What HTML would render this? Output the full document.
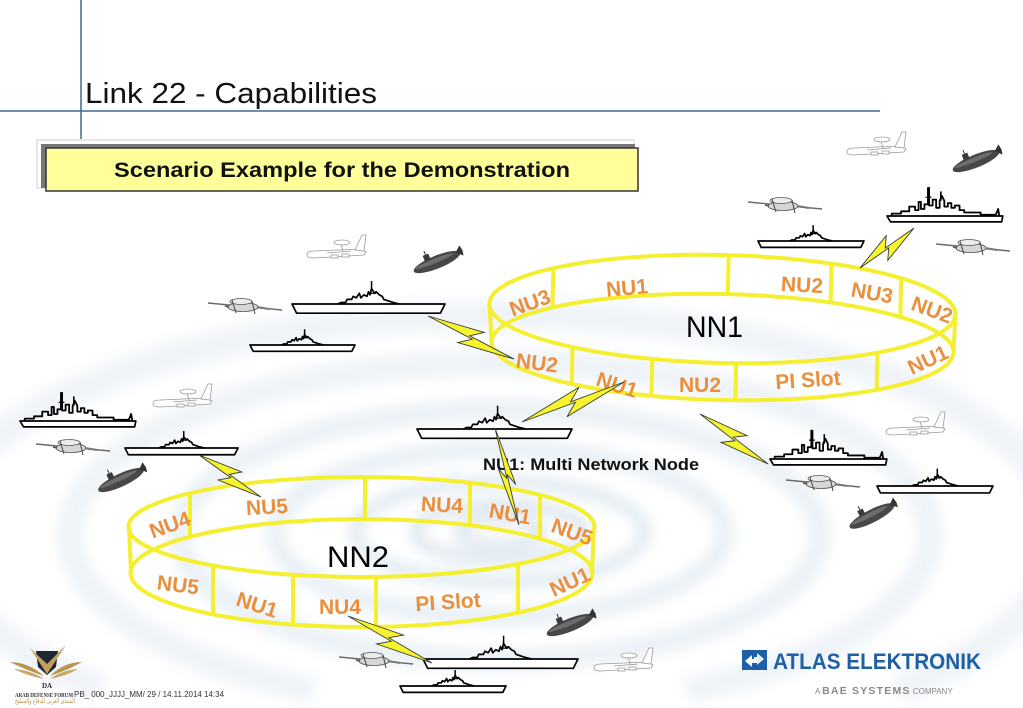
<!DOCTYPE html>
<html><head><meta charset="utf-8">
<style>html,body{margin:0;padding:0;background:#fff;overflow:hidden;width:1023px;height:708px}svg{display:block}</style>
</head><body>
<svg xmlns="http://www.w3.org/2000/svg" xmlns:xlink="http://www.w3.org/1999/xlink" width="1023" height="708" viewBox="0 0 1023 708">
<defs>
 <filter id="bl" x="-20%" y="-20%" width="140%" height="140%"><feGaussianBlur stdDeviation="7"/></filter>
 <polygon id="bolt" points="0,0 60,-11 48,-1 100,0 40,11 52,1" fill="#f6f42c" stroke="#3a3a3a" stroke-width="0.9" vector-effect="non-scaling-stroke" stroke-linejoin="miter"/>
 <g id="carrier" stroke="#000" stroke-linejoin="round">
  <polygon points="0,0 100,0 97,6 3,6" fill="#fff" stroke-width="1.7" vector-effect="non-scaling-stroke"/>
  <polyline points="30,0 32,-1 35,-1 36,-3 39,-3 40,-5 42,-4 44,-7 45,-4 47,-6 49,-5 50,-8 51,-6 52,-10 54,-7 55,-8 57,-6 59,-5 60,-3 63,-2 66,-1 70,0" fill="none" stroke-width="1.7" vector-effect="non-scaling-stroke"/>
  <line x1="52" y1="-10" x2="52" y2="-15" stroke-width="1.5" vector-effect="non-scaling-stroke"/>
  <line x1="50" y1="-7" x2="55" y2="-7" stroke-width="1.2" vector-effect="non-scaling-stroke"/>
 </g>
 <g id="destroyer" stroke="#000" stroke-linejoin="round">
  <polygon points="0,0 99,0 98,5 3,5" fill="#fff" stroke-width="1.7" vector-effect="non-scaling-stroke"/>
  <polyline points="4,0 4,-2 12,-2 12,-4 19,-4 19,-8 24,-8 24,-5 27,-5 27,-12 29,-12 29,-6 32,-6 32,-10 35,-10 35,-24 36,-24 36,-9 39,-9 39,-14 42,-14 42,-7 45,-7 45,-13 47,-17 49,-13 49,-8 52,-8 52,-11 55,-11 55,-7 58,-7 58,-9 62,-9 62,-5 66,-5 66,-3 80,-3 80,-1 93,-1 95,-6 96,0" fill="none" stroke-width="1.8" vector-effect="non-scaling-stroke"/>
  <line x1="46" y1="-13" x2="46" y2="-21" stroke-width="1.6" vector-effect="non-scaling-stroke"/>
  <line x1="33" y1="-16" x2="38" y2="-16" stroke-width="1.2" vector-effect="non-scaling-stroke"/>
 </g>
 <g id="sub">
  <ellipse cx="0" cy="0" rx="25" ry="6.5" fill="#474747"/>
  <ellipse cx="-2" cy="-1.8" rx="20" ry="2.3" fill="#7a7a7a" opacity=".75"/>
  <rect x="-11" y="-11" width="6" height="6" fill="#3a3a3a"/>
  <line x1="-8" y1="-11" x2="-8" y2="-15" stroke="#333" stroke-width="1"/>
  <path d="M21,-2 L27,-7 L28,-1 L27,4 Z" fill="#333"/>
 </g>
 <g id="hawk">
  <line x1="-37" y1="-3" x2="37" y2="4" stroke="#6a6a6a" stroke-width="1.4"/>
  <ellipse cx="-2" cy="1" rx="15" ry="4.5" fill="#d6d6d6" stroke="#555" stroke-width="0.8"/>
  <ellipse cx="-4" cy="-4.5" rx="11" ry="3" fill="#ececec" stroke="#555" stroke-width="0.8"/>
  <line x1="-13" y1="-6" x2="-9" y2="7" stroke="#444" stroke-width="1"/>
  <line x1="7" y1="-5" x2="10" y2="8" stroke="#444" stroke-width="1"/>
  <line x1="12" y1="1" x2="24" y2="3" stroke="#777" stroke-width="2"/>
  <line x1="-20" y1="0" x2="-16" y2="1" stroke="#555" stroke-width="1.5"/>
 </g>
 <g id="awacs" fill="#fff" stroke="#9a9a9a" stroke-width="0.8">
  <path d="M-30,5 Q-30,1 -23,1 L24,-1 L29,2 L27,5 L-23,8 Q-30,8 -30,5Z"/>
  <path d="M18,0 L25,-15 L29,-15 L27,1Z"/>
  <line x1="4" y1="-6" x2="6" y2="1"/>
  <ellipse cx="5" cy="-7.5" rx="8" ry="2.5"/>
  <rect x="-6" y="5" width="7" height="3"/>
  <rect x="5" y="4" width="7" height="3"/>
  <line x1="-10" y1="3" x2="14" y2="1"/>
 </g>
</defs>

<!-- background ripples -->
<g fill="none" filter="url(#bl)">
 <path d="M102.6,690 A560 220 0 1 1 897.4,690" stroke="#dfeaf2" stroke-width="30" opacity=".5"/>
 <path d="M313.5,690 A430 172 0 1 1 686.5,690" stroke="#dbe7f0" stroke-width="26" opacity=".5"/>
 <ellipse cx="500" cy="535" rx="320" ry="125" stroke="#d6e4ee" stroke-width="22" opacity=".5"/>
 <ellipse cx="500" cy="533" rx="225" ry="84" stroke="#d0e0eb" stroke-width="18" opacity=".5"/>
 <ellipse cx="500" cy="532" rx="145" ry="50" stroke="#c4d8e6" stroke-width="13" opacity=".55"/>
 <ellipse cx="500" cy="532" rx="85" ry="27" stroke="#b0cadc" stroke-width="8" opacity=".65"/>
 <ellipse cx="500" cy="532" rx="42" ry="13" stroke="#97b5cc" stroke-width="5" opacity=".7"/>
</g>

<!-- header lines -->
<line x1="81" y1="0" x2="81" y2="139" stroke="#3d6891" stroke-width="1.5"/>
<line x1="0" y1="111" x2="880" y2="111" stroke="#3d6891" stroke-width="1.5"/>
<text x="85" y="103" font-family="Liberation Sans, Arial, sans-serif" font-size="29" fill="#111" textLength="292" lengthAdjust="spacingAndGlyphs">Link 22 - Capabilities</text>

<!-- title box -->
<rect x="37" y="140" width="597" height="48" fill="none" stroke="#cfcfcf" stroke-width="1"/>
<rect x="41" y="144" width="594" height="44" fill="#777"/>
<rect x="46" y="148" width="592" height="43" fill="#ffff99" stroke="#333" stroke-width="1.5"/>
<text x="114" y="177" font-family="Liberation Sans, Arial, sans-serif" font-size="21" font-weight="bold" fill="#111" textLength="456" lengthAdjust="spacingAndGlyphs">Scenario Example for the Demonstration</text>

<!-- NN1 ring -->
<g fill="none" stroke="#f4ef2f" stroke-width="4" transform="rotate(1.3 722 328)">
 <ellipse cx="722" cy="309" rx="233" ry="54"/>
 <ellipse cx="723" cy="347" rx="231" ry="53"/>
 <line x1="489" y1="309" x2="492" y2="347"/>
 <line x1="955" y1="309" x2="954" y2="347"/>
 <line x1="552" y1="272" x2="552" y2="311"/>
 <line x1="727" y1="255" x2="727" y2="294"/>
 <line x1="830" y1="261" x2="830" y2="300"/>
 <line x1="900" y1="274" x2="900" y2="313"/>
 <line x1="573" y1="350" x2="573" y2="387"/>
 <line x1="653" y1="360" x2="653" y2="397"/>
 <line x1="737" y1="363" x2="737" y2="400"/>
 <line x1="878" y1="349" x2="878" y2="386"/>
</g>
<!-- NN2 ring -->
<g fill="none" stroke="#f4ef2f" stroke-width="4">
 <ellipse cx="361.5" cy="527" rx="233" ry="50"/>
 <ellipse cx="361.5" cy="573" rx="231" ry="54"/>
 <line x1="129" y1="527" x2="131" y2="573"/>
 <line x1="594" y1="527" x2="592" y2="573"/>
 <line x1="190" y1="493" x2="190" y2="537"/>
 <line x1="365" y1="477" x2="365" y2="519"/>
 <line x1="470" y1="483" x2="470" y2="525"/>
 <line x1="540" y1="495" x2="540" y2="539"/>
 <line x1="213" y1="565" x2="213" y2="614"/>
 <line x1="293" y1="575" x2="293" y2="624"/>
 <line x1="376" y1="577" x2="376" y2="627"/>
 <line x1="518" y1="564" x2="518" y2="613"/>
</g>

<!-- ring labels -->
<g font-family="Liberation Sans, Arial, sans-serif" font-size="21" font-weight="bold" fill="#ea8f3e" text-anchor="middle">
 <text transform="translate(530,303) rotate(-20)" y="7">NU3</text>
 <text transform="translate(627,288) rotate(-5)" y="7">NU1</text>
 <text transform="translate(802,285) rotate(3)" y="7">NU2</text>
 <text transform="translate(872,293) rotate(10)" y="7">NU3</text>
 <text transform="translate(932,310) rotate(20)" y="7">NU2</text>
 <text transform="translate(537,363) rotate(7)" y="7">NU2</text>
 <text transform="translate(617,385) rotate(18)" y="7">NU1</text>
 <text transform="translate(700,385)" y="7">NU2</text>
 <text transform="translate(808,380) rotate(-4)" y="7">PI Slot</text>
 <text transform="translate(928,360) rotate(-25)" y="7">NU1</text>

 <text transform="translate(170,525) rotate(-20)" y="7">NU4</text>
 <text transform="translate(267,507) rotate(-3)" y="7">NU5</text>
 <text transform="translate(442,505) rotate(3)" y="7">NU4</text>
 <text transform="translate(510,514) rotate(10)" y="7">NU1</text>
 <text transform="translate(572,532) rotate(20)" y="7">NU5</text>
 <text transform="translate(178,585) rotate(7)" y="7">NU5</text>
 <text transform="translate(257,605) rotate(18)" y="7">NU1</text>
 <text transform="translate(340,607)" y="7">NU4</text>
 <text transform="translate(448,602) rotate(-4)" y="7">PI Slot</text>
 <text transform="translate(570,582) rotate(-25)" y="7">NU1</text>
</g>
<text x="686" y="337" font-family="Liberation Sans, Arial, sans-serif" font-size="30" fill="#000" textLength="57" lengthAdjust="spacingAndGlyphs">NN1</text>
<text x="327" y="567" font-family="Liberation Sans, Arial, sans-serif" font-size="30" fill="#000" textLength="62" lengthAdjust="spacingAndGlyphs">NN2</text>

<!-- aircraft -->
<use xlink:href="#awacs" transform="translate(337,250)"/>
<use xlink:href="#awacs" transform="translate(877,147)"/>
<use xlink:href="#awacs" transform="translate(183,399)"/>
<use xlink:href="#awacs" transform="translate(916,427)"/>
<use xlink:href="#awacs" transform="translate(624,663)"/>

<use xlink:href="#hawk" transform="translate(245,306)"/>
<use xlink:href="#hawk" transform="translate(785,205)"/>
<use xlink:href="#hawk" transform="translate(973,247)"/>
<use xlink:href="#hawk" transform="translate(73,447)"/>
<use xlink:href="#hawk" transform="translate(823,483)"/>
<use xlink:href="#hawk" transform="translate(376,660)"/>

<!-- submarines -->
<use xlink:href="#sub" transform="translate(437,262) rotate(-22)"/>
<use xlink:href="#sub" transform="translate(976,161) rotate(-22)"/>
<use xlink:href="#sub" transform="translate(121,480) rotate(-25)"/>
<use xlink:href="#sub" transform="translate(872,516) rotate(-27)"/>
<use xlink:href="#sub" transform="translate(570,625) rotate(-22)"/>

<!-- carriers -->
<use xlink:href="#carrier" transform="translate(292,304) scale(1.53)"/>
<use xlink:href="#carrier" transform="translate(250,345) scale(1.05)"/>
<use xlink:href="#carrier" transform="translate(758,241) scale(1.06)"/>
<use xlink:href="#carrier" transform="translate(417,429) scale(1.55)"/>
<use xlink:href="#carrier" transform="translate(125,448) scale(1.13)"/>
<use xlink:href="#carrier" transform="translate(877,486) scale(1.16)"/>
<use xlink:href="#carrier" transform="translate(423,659) scale(1.55)"/>
<use xlink:href="#carrier" transform="translate(400,686) scale(1.06)"/>

<!-- destroyers -->
<use xlink:href="#destroyer" transform="translate(887,216) scale(1.17)"/>
<use xlink:href="#destroyer" transform="translate(20,421) scale(1.17)"/>
<use xlink:href="#destroyer" transform="translate(770,459) scale(1.18)"/>

<text x="483" y="470" font-family="Liberation Sans, Arial, sans-serif" font-size="17" font-weight="bold" fill="#111" textLength="216" lengthAdjust="spacingAndGlyphs">NU1: Multi Network Node</text>

<!-- lightning bolts -->
<use xlink:href="#bolt" transform="translate(428,316) rotate(26.6) scale(0.962,0.95)"/>
<use xlink:href="#bolt" transform="translate(522,422) rotate(-21.4) scale(1.096,1.05)"/>
<use xlink:href="#bolt" transform="translate(700,414) rotate(36.3) scale(0.844,0.95)"/>
<use xlink:href="#bolt" transform="translate(860,268) rotate(-36.5) scale(0.672,0.95)"/>
<use xlink:href="#bolt" transform="translate(199,455) rotate(34.1) scale(0.749,0.9)"/>
<use xlink:href="#bolt" transform="translate(495,428) rotate(76.1) scale(0.999,0.6)"/>
<use xlink:href="#bolt" transform="translate(348,616) rotate(29.2) scale(0.963,0.95)"/>

<!-- Arab defense logo -->
<g>
 <path d="M10,662 Q28,662 44,676 Q26,670 10,662Z" fill="#b8964e"/>
 <path d="M14,669 Q30,670 44,679 Q28,676 14,669Z" fill="#c9a866"/>
 <path d="M82,662 Q64,662 50,676 Q68,670 82,662Z" fill="#b8964e"/>
 <path d="M78,669 Q62,670 50,679 Q66,676 78,669Z" fill="#c9a866"/>
 <path d="M36,651 L58,651 L56,667 L47,675 L38,667Z" fill="#1c2733"/>
 <path d="M30,648 L47,674 L66,645 L47,664Z" fill="#c2a05a"/>
 <text x="47" y="688" font-family="Liberation Serif, serif" font-size="7" font-weight="bold" fill="#1c2733" text-anchor="middle">DA</text>
</g>
<text x="15" y="697" font-family="Liberation Serif, serif" font-size="6.5" font-weight="bold" fill="#333" textLength="58" lengthAdjust="spacingAndGlyphs">ARAB DEFENSE FORUM</text>
<text x="74" y="697" font-family="Liberation Sans, Arial, sans-serif" font-size="8.5" fill="#333" textLength="150" lengthAdjust="spacingAndGlyphs">PB_ 000_JJJJ_MM/  29 / 14.11.2014 14:34</text>
<text x="15" y="703" font-family="DejaVu Sans, sans-serif" font-size="6.5" fill="#b8964e" textLength="60" lengthAdjust="spacingAndGlyphs">المنتدى العربي للدفاع والتسليح</text>

<!-- Atlas Elektronik logo -->
<rect x="742" y="650" width="25" height="20" fill="#1f5fa6"/>
<path d="M745,661 L752,655 L752,659 L757,659 L757,663 L752,663 L752,667Z" fill="#fff"/>
<path d="M764,659 L757,665 L757,661 L754,661 L754,657 L757,657 L757,653Z" fill="#fff" opacity=".9"/>
<text x="773" y="669" font-family="Liberation Sans, Arial, sans-serif" font-size="22" font-weight="bold" fill="#1f5fa6" textLength="208" lengthAdjust="spacingAndGlyphs">ATLAS ELEKTRONIK</text>
<text x="815" y="694" font-family="Liberation Sans, Arial, sans-serif" font-size="8" fill="#8a8a8a">A <tspan font-size="10.5" font-weight="bold" letter-spacing="1.2">BAE SYSTEMS</tspan> COMPANY</text>
</svg>
</body></html>
